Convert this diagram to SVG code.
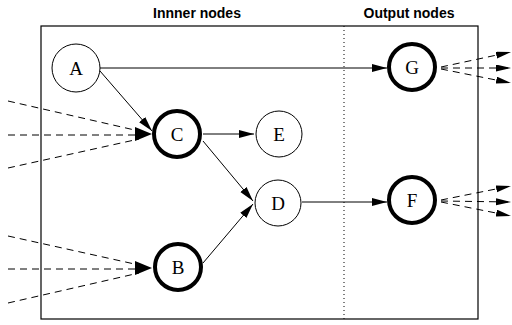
<svg xmlns="http://www.w3.org/2000/svg" width="512" height="325" viewBox="0 0 512 325">
<style>
.lbl{font-family:"Liberation Sans",Arial,sans-serif;font-weight:bold;font-size:14px;fill:#000;text-anchor:middle}
.nt{font-family:"Liberation Serif","Times New Roman",serif;font-size:19px;fill:#000;text-anchor:middle;dominant-baseline:central}
.thin{fill:#fff;stroke:#000;stroke-width:1}
.thick{fill:#fff;stroke:#000;stroke-width:4}
.e{stroke:#000;stroke-width:1;fill:none}
.d{stroke:#000;stroke-width:1;fill:none;stroke-dasharray:7,5}
</style>
<defs>
<marker id="ah" markerUnits="userSpaceOnUse" markerWidth="16" markerHeight="10" refX="15" refY="4.5" orient="auto">
<path d="M0,0.5 L15,4.5 L0,8.5 Z" fill="#000"/>
</marker>
<marker id="ahs" markerUnits="userSpaceOnUse" markerWidth="16" markerHeight="8" refX="15" refY="3.5" orient="auto">
<path d="M0,0 L15,3.5 L0,7 Z" fill="#000"/>
</marker>
</defs>
<rect x="41" y="26" width="437" height="293" fill="none" stroke="#000" stroke-width="1.2"/>
<line x1="344" y1="26" x2="344" y2="319" stroke="#000" stroke-width="1" stroke-dasharray="1,3"/>
<text class="lbl" x="197" y="18">Innner nodes</text>
<text class="lbl" x="409" y="18">Output nodes</text>
<g id="connectors">
<line class="e" x1="100" y1="68" x2="387" y2="68" marker-end="url(#ah)"/>
<line class="e" x1="100" y1="71" x2="152" y2="131" marker-end="url(#ah)"/>
<line class="e" x1="203" y1="134" x2="254" y2="134" marker-end="url(#ah)"/>
<line class="e" x1="203" y1="141" x2="253" y2="201" marker-end="url(#ah)"/>
<line class="e" x1="203" y1="263" x2="253" y2="204" marker-end="url(#ah)"/>
<line class="e" x1="302" y1="202" x2="387" y2="202" marker-end="url(#ah)"/>
<line class="d" x1="8" y1="101" x2="139" y2="131"/>
<line class="d" x1="8" y1="135" x2="139" y2="135"/>
<line class="d" x1="8" y1="168" x2="139" y2="139"/>
<path d="M135,127 L152,134 L135,141 Z" fill="#000"/>
<line class="d" x1="8" y1="236" x2="139" y2="265"/>
<line class="d" x1="8" y1="269" x2="139" y2="269"/>
<line class="d" x1="8" y1="303" x2="139" y2="273"/>
<path d="M135,261 L152,268 L135,275 Z" fill="#000"/>
<line class="d" x1="441" y1="67" x2="511" y2="52" marker-end="url(#ahs)"/>
<line class="d" x1="441" y1="68" x2="511" y2="68" marker-end="url(#ahs)"/>
<line class="d" x1="441" y1="69" x2="511" y2="83" marker-end="url(#ahs)"/>
<line class="d" x1="441" y1="200" x2="511" y2="186" marker-end="url(#ahs)"/>
<line class="d" x1="441" y1="201" x2="511" y2="202" marker-end="url(#ahs)"/>
<line class="d" x1="441" y1="202" x2="511" y2="216" marker-end="url(#ahs)"/>
</g>
<g id="A"><circle class="thin" cx="76" cy="68" r="24"/><text class="nt" x="76" y="68">A</text></g>
<g id="C"><circle class="thick" cx="177" cy="134" r="23"/><text class="nt" x="177" y="134">C</text></g>
<g id="E"><circle class="thin" cx="279" cy="134" r="23"/><text class="nt" x="279" y="134">E</text></g>
<g id="D"><circle class="thin" cx="278" cy="203" r="23"/><text class="nt" x="278" y="203">D</text></g>
<g id="B"><circle class="thick" cx="178" cy="267" r="23"/><text class="nt" x="178" y="267">B</text></g>
<g id="G"><circle class="thick" cx="412" cy="67" r="23"/><text class="nt" x="412" y="67">G</text></g>
<g id="F"><circle class="thick" cx="412" cy="200" r="23"/><text class="nt" x="412" y="200">F</text></g>
</svg>
